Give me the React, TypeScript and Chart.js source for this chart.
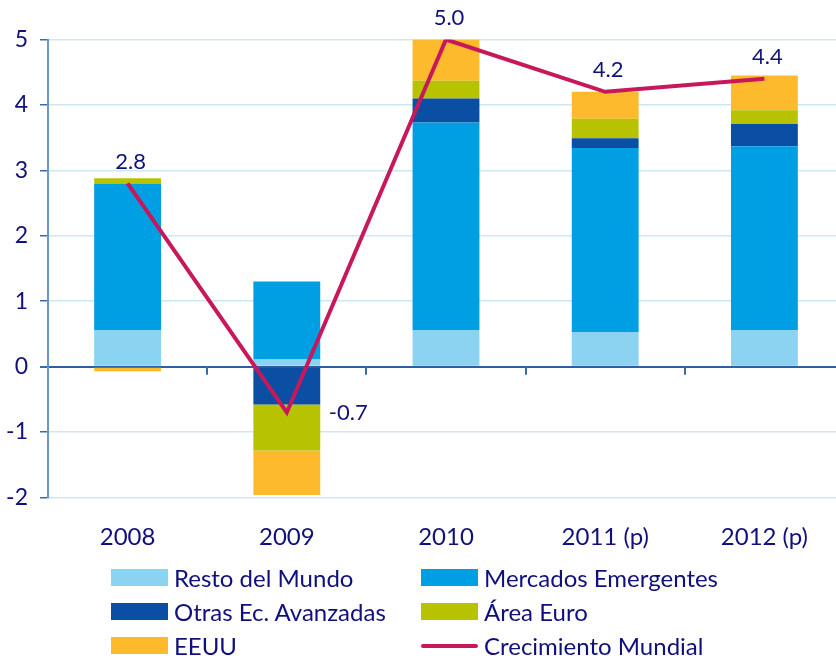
import React, { useEffect, useRef } from "react";
import { Chart, registerables } from "chart.js";

Chart.register(...registerables);

const categories = ["2008", "2009", "2010", "2011 (p)", "2012 (p)"];
const restoDelMundo = [0.56, 0.11, 0.56, 0.53, 0.56];
const mercadosEmergentes = [2.23, 1.19, 3.17, 2.81, 2.81];
const otrasEcAvanzadas = [0, -0.58, 0.37, 0.15, 0.34];
const areaEuro = [0.09, -0.7, 0.27, 0.3, 0.21];
const eeuu = [-0.07, -0.68, 0.63, 0.41, 0.53];
const crecimientoMundial = [2.8, -0.7, 5.0, 4.2, 4.4];
const yTicks = [-2, -1, 0, 1, 2, 3, 4, 5];

const NAVY = "#10107c";
const FONT = "Lato";
const COLORS = {
  resto: "#8cd2f1",
  merc: "#009fe3",
  otras: "#0a4fa3",
  euro: "#b8c300",
  eeuu: "#fdba2c",
  line: "#c7185b",
};

const legendItems = [
  { label: "Resto del Mundo", color: COLORS.resto, line: false, col: 0, row: 0 },
  { label: "Mercados Emergentes", color: COLORS.merc, line: false, col: 1, row: 0 },
  { label: "Otras Ec. Avanzadas", color: COLORS.otras, line: false, col: 0, row: 1 },
  { label: "Área Euro", color: COLORS.euro, line: false, col: 1, row: 1 },
  { label: "EEUU", color: COLORS.eeuu, line: false, col: 0, row: 2 },
  { label: "Crecimiento Mundial", color: COLORS.line, line: true, col: 1, row: 2 },
];

const zeroTicksPlugin = {
  id: "zeroTicks",
  afterDatasetsDraw(chart: any) {
    const { ctx, scales } = chart;
    const x = scales.x;
    const y = scales.y;
    const y0 = y.getPixelForValue(0);
    ctx.save();
    ctx.strokeStyle = "#3a6aa8";
    ctx.lineWidth = 2;
    for (let i = 0; i < categories.length - 1; i++) {
      const b = (x.getPixelForTick(i) + x.getPixelForTick(i + 1)) / 2;
      ctx.beginPath();
      ctx.moveTo(Math.round(b), y0);
      ctx.lineTo(Math.round(b), y0 + 8);
      ctx.stroke();
    }
    ctx.restore();
  },
};

const valueLabelsPlugin = {
  id: "valueLabels",
  afterDatasetsDraw(chart: any) {
    const { ctx } = chart;
    const idx = chart.data.datasets.findIndex((d: any) => d.type === "line");
    const meta = chart.getDatasetMeta(idx);
    ctx.save();
    ctx.fillStyle = NAVY;
    ctx.font = `22px ${FONT}`;
    ctx.textBaseline = "middle";
    meta.data.forEach((pt: any, i: number) => {
      const v = crecimientoMundial[i];
      const txt = v.toFixed(1);
      if (v < 0) {
        ctx.textAlign = "left";
        ctx.fillText(txt, pt.x + 42, pt.y);
      } else {
        ctx.textAlign = "center";
        ctx.fillText(txt, pt.x + 3, pt.y - 22);
      }
    });
    ctx.restore();
  },
};

export default function App() {
  const ref = useRef<HTMLCanvasElement | null>(null);

  useEffect(() => {
    if (!ref.current) return;
    const barBase = { type: "bar" as const, stack: "s", order: 1, borderWidth: 0 };
    const chart = new Chart(ref.current, {
      data: {
        labels: categories,
        datasets: [
          { ...barBase, label: "Resto del Mundo", data: restoDelMundo, backgroundColor: COLORS.resto },
          { ...barBase, label: "Mercados Emergentes", data: mercadosEmergentes, backgroundColor: COLORS.merc },
          { ...barBase, label: "Otras Ec. Avanzadas", data: otrasEcAvanzadas, backgroundColor: COLORS.otras },
          { ...barBase, label: "Área Euro", data: areaEuro, backgroundColor: COLORS.euro },
          { ...barBase, label: "EEUU", data: eeuu, backgroundColor: COLORS.eeuu },
          {
            type: "line" as const,
            label: "Crecimiento Mundial",
            data: crecimientoMundial,
            stack: "line",
            order: 0,
            borderColor: COLORS.line,
            borderWidth: 4,
            pointRadius: 0,
            tension: 0,
            fill: false,
          },
        ],
      } as any,
      options: {
        responsive: false,
        animation: false,
        devicePixelRatio: 1,
        datasets: { bar: { categoryPercentage: 1, barPercentage: 0.42 } },
        layout: { padding: { top: 39.5, right: 0, bottom: 0, left: 0 } },
        plugins: { legend: { display: false }, tooltip: { enabled: false } },
        scales: {
          x: {
            stacked: true,
            offset: true,
            grid: { display: false, drawTicks: false },
            border: { display: false },
            ticks: {
              color: NAVY,
              font: { family: FONT, size: 24 },
              padding: 25,
              maxRotation: 0,
            },
            afterFit: (s: any) => {
              s.height = 158.5;
            },
          },
          y: {
            stacked: true,
            min: -2,
            max: 5,
            afterBuildTicks: (s: any) => {
              s.ticks = yTicks.map((v) => ({ value: v }));
            },
            grid: {
              color: (c: any) => (c.tick && c.tick.value === 0 ? "#2e5f9e" : "#cde7f3"),
              lineWidth: (c: any) => (c.tick && c.tick.value === 0 ? 2 : 1.5),
              tickLength: 8,
              tickColor: "#3a6aa8",
            },
            border: { display: true, color: "#6a96cc", width: 2 },
            ticks: {
              color: NAVY,
              font: { family: FONT, size: 23 },
              padding: 12,
            },
            afterFit: (s: any) => {
              s.width = 48;
            },
          },
        },
      },
      plugins: [zeroTicksPlugin, valueLabelsPlugin],
    });
    return () => chart.destroy();
  }, []);

  return (
    <div
      style={{
        position: "absolute",
        left: 0,
        top: 0,
        width: 836,
        height: 656,
        overflow: "hidden",
        background: "#fff",
        fontFamily: FONT,
      }}
    >
      <canvas ref={ref} width={844} height={656} style={{ display: "block" }} />
      {legendItems.map((it) => {
        const sx = it.col === 0 ? 111 : 421;
        const top = 569 + it.row * 34;
        return (
          <React.Fragment key={it.label}>
            <div
              style={{
                position: "absolute",
                left: sx,
                top: it.line ? top + 7 : top,
                width: 57,
                height: it.line ? 4 : 17,
                borderRadius: it.line ? 2 : 0,
                background: it.color,
              }}
            />
            <div
              style={{
                position: "absolute",
                left: sx + 63,
                top: top + 8.5 - 15,
                height: 30,
                lineHeight: "30px",
                fontSize: 24,
                color: NAVY,
                whiteSpace: "nowrap",
              }}
            >
              {it.label}
            </div>
          </React.Fragment>
        );
      })}
    </div>
  );
}
